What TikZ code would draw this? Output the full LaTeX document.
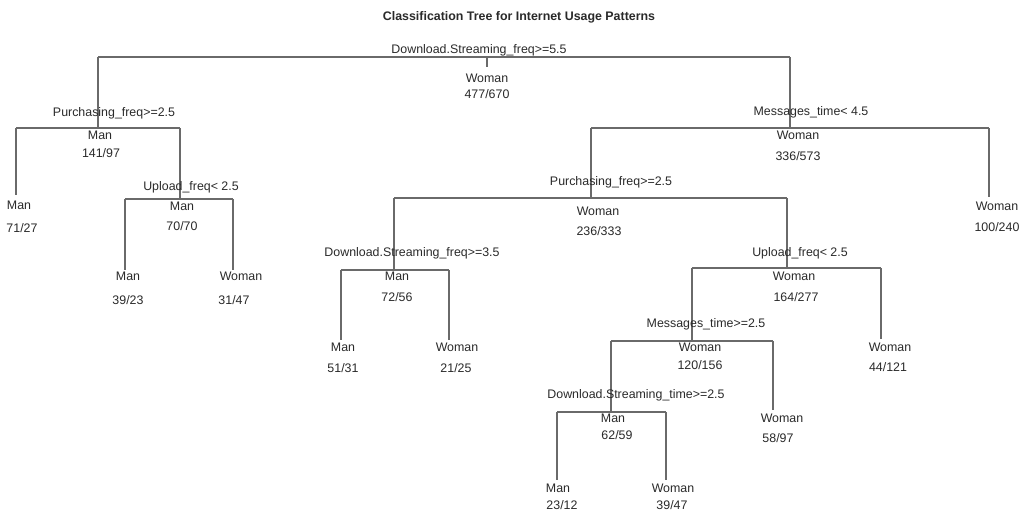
\documentclass[tikz,border=0pt]{standalone}
\usepackage{fontspec}
\setmainfont{Liberation Sans}
\definecolor{branch}{HTML}{6A6A6A}
\definecolor{ink}{HTML}{2A2A2A}
\begin{document}
\begin{tikzpicture}[x=1pt,y=-1pt,
  lbl/.style={font=\fontsize{12.4}{14}\selectfont, text=ink, inner sep=0pt, anchor=center},
  ttl/.style={font=\fontsize{12.4}{14}\selectfont\bfseries, text=ink, inner sep=0pt},
  edge/.style={draw=branch, line width=1.3pt}]
\useasboundingbox[fill=white] (0,0) rectangle (1023,512);

\node[ttl] (title) at (519,17) {Classification Tree for Internet Usage Patterns};

% ---- split points (bar centres) ----
\coordinate (r)  at (487,57);
\coordinate (rt) at (487,67);
\coordinate (a)  at (98,128);
\coordinate (b)  at (180,199);
\coordinate (c)  at (790,128);
\coordinate (d)  at (591,198);
\coordinate (e)  at (394,270);
\coordinate (f)  at (787,268);
\coordinate (g)  at (692,341);
\coordinate (h)  at (611,412);
% ---- leaf tops ----
\coordinate (a1) at (16,195);
\coordinate (b1) at (125,270);
\coordinate (b2) at (233,270);
\coordinate (c2) at (989,197);
\coordinate (e1) at (341,340);
\coordinate (e2) at (449,340);
\coordinate (f2) at (881,339);
\coordinate (g2) at (773,410);
\coordinate (h1) at (557,480);
\coordinate (h2) at (666,480);

% ---- branches ----
\draw[edge] (r) -- (rt);
\draw[edge] (a |- r) -- (c |- r);
\draw[edge] (a |- r) -- (a);
\draw[edge] (c |- r) -- (c);

\draw[edge] (a1 |- a) -- (b |- a);
\draw[edge] (a1 |- a) -- (a1);
\draw[edge] (b |- a) -- (b);

\draw[edge] (b1 |- b) -- (b2 |- b);
\draw[edge] (b1 |- b) -- (b1);
\draw[edge] (b2 |- b) -- (b2);

\draw[edge] (d |- c) -- (c2 |- c);
\draw[edge] (d |- c) -- (d);
\draw[edge] (c2 |- c) -- (c2);

\draw[edge] (e |- d) -- (f |- d);
\draw[edge] (e |- d) -- (e);
\draw[edge] (f |- d) -- (f);

\draw[edge] (e1 |- e) -- (e2 |- e);
\draw[edge] (e1 |- e) -- (e1);
\draw[edge] (e2 |- e) -- (e2);

\draw[edge] (g |- f) -- (f2 |- f);
\draw[edge] (g |- f) -- (g);
\draw[edge] (f2 |- f) -- (f2);

\draw[edge] (h |- g) -- (g2 |- g);
\draw[edge] (h |- g) -- (h);
\draw[edge] (g2 |- g) -- (g2);

\draw[edge] (h1 |- h) -- (h2 |- h);
\draw[edge] (h1 |- h) -- (h1);
\draw[edge] (h2 |- h) -- (h2);

% ---- split rules ----
\node[lbl] (rs) at (479,50)  {Download.Streaming\_freq>=5.5};
\node[lbl] (as) at (114,113) {Purchasing\_freq>=2.5};
\node[lbl] (bs) at (191,187) {Upload\_freq< 2.5};
\node[lbl] (cs) at (811,112) {Messages\_time< 4.5};
\node[lbl] (ds) at (611,182) {Purchasing\_freq>=2.5};
\node[lbl] (es) at (412,253) {Download.Streaming\_freq>=3.5};
\node[lbl] (fs) at (800,253) {Upload\_freq< 2.5};
\node[lbl] (gs) at (706,324) {Messages\_time>=2.5};
\node[lbl] (hs) at (636,395) {Download.Streaming\_time>=2.5};

% ---- class and counts ----
\node[lbl] (rc) at (487,78)  {Woman};  \node[lbl] (rn) at (487,94)  {477/670};
\node[lbl] (ac) at (100,135) {Man};    \node[lbl] (an) at (101,153) {141/97};
\node[lbl] (a1c) at (19,205) {Man};    \node[lbl] (a1n) at (22,228) {71/27};
\node[lbl] (bc) at (182,206) {Man};    \node[lbl] (bn) at (182,226) {70/70};
\node[lbl] (b1c) at (128,276) {Man};   \node[lbl] (b1n) at (128,300) {39/23};
\node[lbl] (b2c) at (241,276) {Woman}; \node[lbl] (b2n) at (234,300) {31/47};
\node[lbl] (cc) at (798,135) {Woman};  \node[lbl] (cn) at (798,156) {336/573};
\node[lbl] (c2c) at (997,206) {Woman}; \node[lbl] (c2n) at (997,227) {100/240};
\node[lbl] (dc) at (598,211) {Woman};  \node[lbl] (dn) at (599,231) {236/333};
\node[lbl] (ec) at (397,276) {Man};    \node[lbl] (en) at (397,297) {72/56};
\node[lbl] (e1c) at (343,347) {Man};   \node[lbl] (e1n) at (343,368) {51/31};
\node[lbl] (e2c) at (457,347) {Woman}; \node[lbl] (e2n) at (456,368) {21/25};
\node[lbl] (fc) at (794,276) {Woman};  \node[lbl] (fn) at (796,297) {164/277};
\node[lbl] (f2c) at (890,347) {Woman}; \node[lbl] (f2n) at (888,367) {44/121};
\node[lbl] (gc) at (700,347) {Woman};  \node[lbl] (gn) at (700,365) {120/156};
\node[lbl] (g2c) at (782,418) {Woman}; \node[lbl] (g2n) at (778,438) {58/97};
\node[lbl] (hc) at (613,418) {Man};    \node[lbl] (hn) at (617,435) {62/59};
\node[lbl] (h1c) at (558,488) {Man};   \node[lbl] (h1n) at (562,505) {23/12};
\node[lbl] (h2c) at (673,488) {Woman}; \node[lbl] (h2n) at (672,505) {39/47};
\end{tikzpicture}
\end{document}
